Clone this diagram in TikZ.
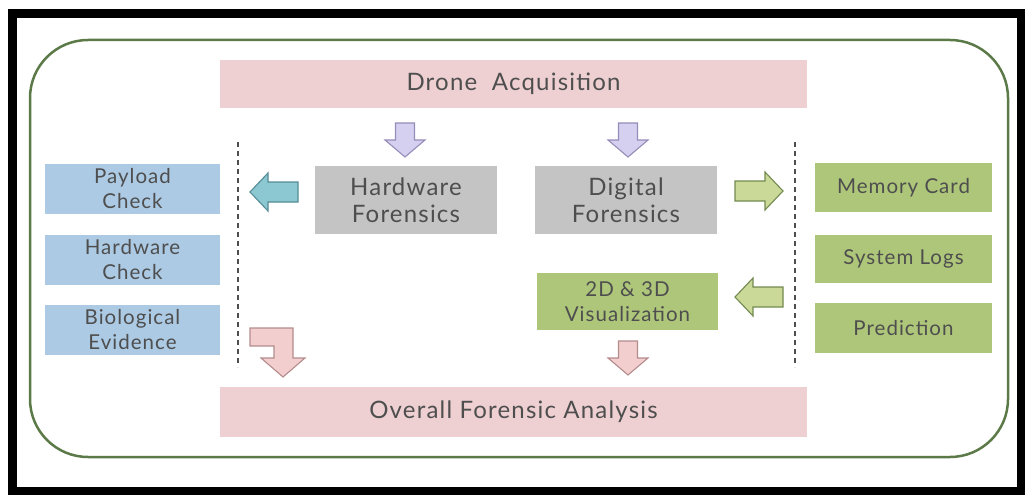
\documentclass[tikz,border=0pt]{standalone}
\usepackage{fontspec}
\setmainfont{Lato}[LetterSpace=5]
\definecolor{txt}{RGB}{78,78,78}
\definecolor{pinkbox}{RGB}{238,208,210}
\definecolor{graybox}{RGB}{196,196,196}
\definecolor{bluebox}{RGB}{172,202,228}
\definecolor{greenbox}{RGB}{174,198,122}
\definecolor{frame}{RGB}{92,122,72}
\definecolor{purfill}{RGB}{214,208,240}
\definecolor{purline}{RGB}{150,140,185}
\definecolor{tealfill}{RGB}{140,200,210}
\definecolor{tealline}{RGB}{85,140,150}
\definecolor{grfill}{RGB}{202,216,152}
\definecolor{grline}{RGB}{115,138,80}
\definecolor{pkfill}{RGB}{242,206,206}
\definecolor{pkline}{RGB}{180,140,140}
\begin{document}
\begin{tikzpicture}[x=1pt,y=-1pt,
  box/.style={inner sep=0pt, align=center, text=txt},
  bigtext/.style={font=\fontsize{24}{27}\selectfont},
  smalltext/.style={font=\fontsize{20.5}{25}\selectfont},
  sep/.style={draw=txt, line width=1.6pt, dash pattern=on 5pt off 4pt},
  varrow/.pic={\draw[pic actions, line width=1.1pt, line join=miter]
    (-9.5,-17) -- (9.5,-17) -- (9.5,0) -- (20,0) -- (0,17) -- (-20,0) -- (-9.5,0) -- cycle;},
  harrow/.pic={\draw[pic actions, line width=1.1pt, line join=miter]
    (-24,-10) -- (6,-10) -- (6,-19) -- (24,0) -- (6,19) -- (6,10) -- (-24,10) -- cycle;}
]
\useasboundingbox (0,0) rectangle (1025,495);

% outer frame and rounded panel
\draw[line width=9pt] (12.5,13.5) rectangle (1021,491.5);
\draw[frame, line width=2.5pt, rounded corners=58pt] (30,40) rectangle (1008,457);

% top and bottom stages
\node[box, bigtext, fill=pinkbox, minimum width=587pt, minimum height=48pt]
  (acq) at (513.5,84) {Drone~~Acquisition};
\node[box, bigtext, fill=pinkbox, minimum width=587pt, minimum height=50pt]
  (overall) at (513.5,412) {Overall Forensic Analysis};

% forensic branches
\node[box, bigtext, fill=graybox, minimum width=182pt, minimum height=68pt]
  (hw) at (406,200) {Hardware\\Forensics};
\node[box, bigtext, fill=graybox, minimum width=182pt, minimum height=68pt]
  (dg) at (626,200) {Digital\\Forensics};
\node[box, smalltext, fill=greenbox, minimum width=181pt, minimum height=57pt]
  (viz) at (627.5,301.5) {2D \& 3D\\Visualization};

% hardware checks
\node[box, smalltext, fill=bluebox, minimum width=175pt, minimum height=50pt]
  (pay) at (132.5,189) {Payload\\Check};
\node[box, smalltext, fill=bluebox, minimum width=175pt, minimum height=50pt]
  (hwc) at (132.5,260) {Hardware\\Check};
\node[box, smalltext, fill=bluebox, minimum width=175pt, minimum height=50pt]
  (bio) at (132.5,330) {Biological\\Evidence};

% digital sources
\node[box, smalltext, fill=greenbox, minimum width=177pt, minimum height=49pt]
  (mem) at (903.5,187.5) {Memory Card};
\node[box, smalltext, fill=greenbox, minimum width=177pt, minimum height=48pt]
  (sys) at (903.5,259) {System Logs};
\node[box, smalltext, fill=greenbox, minimum width=177pt, minimum height=50pt]
  (pred) at (903.5,328) {Prediction};

% dashed separators
\coordinate (lsepT) at (238,142);
\coordinate (lsepB) at (238,367);
\coordinate (rsepT) at (795,142);
\coordinate (rsepB) at (795,367);
\draw[sep] (lsepT) -- (lsepB);
\draw[sep] (rsepT) -- (rsepB);

% block arrows
\pic[fill=purfill, draw=purline] at (405,140) {varrow};
\pic[fill=purfill, draw=purline] at (628,140) {varrow};
\pic[fill=tealfill, draw=tealline, xscale=-1] at (274,192) {harrow};
\pic[fill=grfill, draw=grline] at (759,191) {harrow};
\pic[fill=grfill, draw=grline, xscale=-1] at (759,297) {harrow};
\pic[fill=pkfill, draw=pkline] at (628,358) {varrow};

% bent arrow into the overall analysis
\draw[fill=pkfill, draw=pkline, line width=1.1pt, line join=miter]
  (250,328) -- (293,328) -- (293,358) -- (305,358) -- (283,377)
  -- (261,358) -- (274,358) -- (274,346) -- (250,346) -- cycle;
\end{tikzpicture}
\end{document}
